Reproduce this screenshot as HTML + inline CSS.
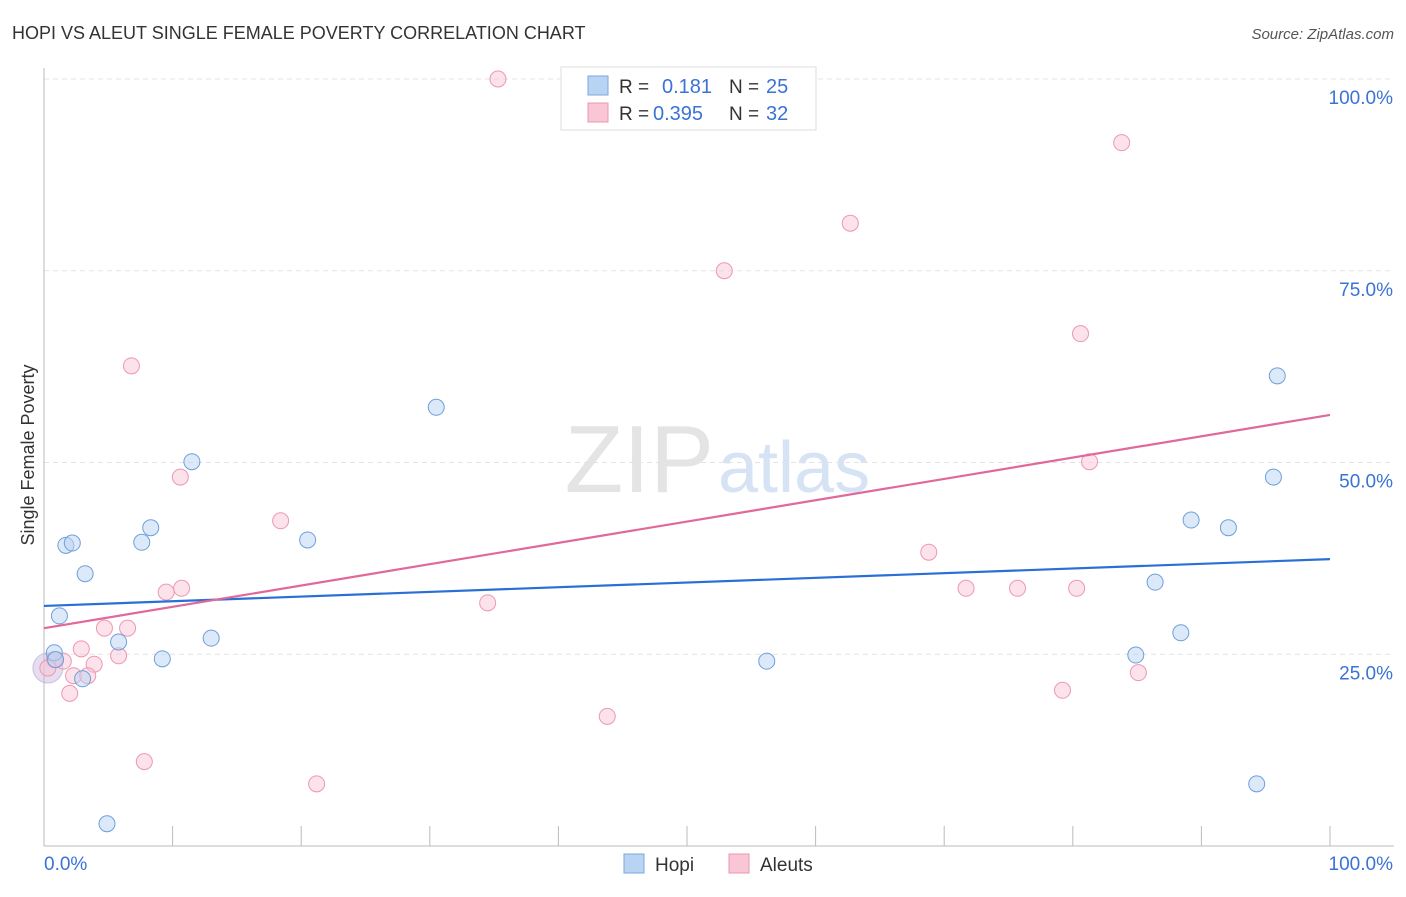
<!DOCTYPE html>
<html><head><meta charset="utf-8"><style>
body{margin:0;background:#fff;font-family:"Liberation Sans",sans-serif;}
svg text{font-family:"Liberation Sans",sans-serif;}
</style></head><body>
<svg id="c" width="1406" height="892" xmlns="http://www.w3.org/2000/svg">
<text x="12" y="39" font-size="18" fill="#333">HOPI VS ALEUT SINGLE FEMALE POVERTY CORRELATION CHART</text>
<text x="1394" y="39" font-size="15" fill="#555" font-style="italic" text-anchor="end">Source: ZipAtlas.com</text>
<text x="714" y="492" font-size="96" fill="#e4e4e4" font-family="Liberation Serif" text-anchor="end">ZIP</text>
<text x="718" y="492" font-size="72" fill="#d5e3f5">atlas</text>
<g id="grid"></g><g id="marks"></g>
<text transform="translate(34,455) rotate(-90)" font-size="18" fill="#333" text-anchor="middle">Single Female Poverty</text>
<g>
<rect x="561" y="67" width="255" height="63" fill="#fff" stroke="#ddd"/>
<rect x="588" y="76" width="20" height="19" fill="#b9d3f3" stroke="#7aa7e0"/>
<rect x="588" y="103" width="20" height="19" fill="#f9c6d6" stroke="#ee97b2"/>
<text x="619" y="93" font-size="19" fill="#333">R = </text><text x="662" y="93" font-size="20" fill="#3a72d6">0.181</text>
<text x="729" y="93" font-size="19" fill="#333">N = </text><text x="766" y="93" font-size="20" fill="#3a72d6">25</text>
<text x="619" y="120" font-size="19" fill="#333">R = </text><text x="653" y="120" font-size="20" fill="#3a72d6">0.395</text>
<text x="729" y="120" font-size="19" fill="#333">N = </text><text x="766" y="120" font-size="20" fill="#3a72d6">32</text>
</g>
<g>
<rect x="624" y="854" width="20" height="19" fill="#b9d3f3" stroke="#7aa7e0"/>
<text x="655" y="871" font-size="19" fill="#333">Hopi</text>
<rect x="729" y="854" width="20" height="19" fill="#f9c6d6" stroke="#ee97b2"/>
<text x="760" y="871" font-size="19" fill="#333">Aleuts</text>
</g>
</svg>
<script>
const hopiX=[0.8,0.9,1.2,1.7,2.2,3.2,3.0,4.9,5.8,7.6,8.3,9.2,11.5,13.0,20.5,30.5,56.2,84.9,86.4,88.4,89.2,92.1,94.3,95.6,95.9];
const hopiY=[25.2,24.3,30.0,39.2,39.5,35.5,21.8,2.9,26.6,39.6,41.5,24.4,50.1,27.1,39.9,57.2,24.1,24.9,34.4,27.8,42.5,41.5,8.1,48.1,61.3];
const aleutX=[35.3,83.8,62.7,52.9,80.6,6.8,10.6,81.3,18.4,68.8,9.5,10.7,71.7,75.7,80.3,34.5,4.7,6.5,2.9,5.8,1.5,3.9,2.3,3.4,2.0,79.2,85.1,43.8,7.8,21.2,0.8,0.3];
const aleutY=[100,91.7,81.2,75.0,66.8,62.6,48.1,50.1,42.4,38.3,33.1,33.6,33.6,33.6,33.6,31.7,28.4,28.4,25.7,24.8,24.1,23.7,22.2,22.2,19.9,20.3,22.6,16.9,11.0,8.1,24.3,23.2];
const hopiTrend=[31.3,37.4];
const aleutTrend=[28.4,56.2];
const yTicks=[25,50,75,100];
const xTickCount=10;
const NS="http://www.w3.org/2000/svg";
const X=v=>44+v*12.86, Y=v=>846-v*7.67;
function mk(t,a,p){const e=document.createElementNS(NS,t);for(const k in a)e.setAttribute(k,a[k]);p.appendChild(e);return e;}
const g=document.getElementById('grid'),m=document.getElementById('marks');
for(const t of yTicks){
 const l=mk('line',{x1:44,x2:1394,y1:Y(t),y2:Y(t),stroke:'#e3e3e3','stroke-dasharray':'5,4'},g);
 
 
 const tx=mk('text',{x:1393,y:Y(t)+25,'font-size':19,fill:'#3a72d6','text-anchor':'end'},g);
 tx.textContent=t.toFixed(1)+'%';
 
 
}
const ax=mk('line',{x1:44,x2:44,y1:68,y2:846,stroke:'#bbb'},g);


const bx=mk('line',{x1:44,x2:1394,y1:846,y2:846,stroke:'#bbb'},g);


for(let i=0;i<=xTickCount;i++){
 const v=i*100/xTickCount;
 const t=mk('line',{x1:X(v),x2:X(v),y1:826,y2:846,stroke:'#bbb'},g);
 
 
}
const xl=mk('text',{x:44,y:870,'font-size':19,fill:'#3a72d6'},g);xl.textContent='0.0%';


const xr=mk('text',{x:1393,y:870,'font-size':19,fill:'#3a72d6','text-anchor':'end'},g);xr.textContent='100.0%';


const big=mk('circle',{cx:X(0.3),cy:Y(23.2),r:15,fill:'rgba(200,180,220,0.45)',stroke:'rgba(180,160,210,0.6)'},m);


function pts(xs,ys,fill,stroke,name){xs.forEach((x,i)=>{const c=mk('circle',{cx:X(x),cy:Y(ys[i]),r:8,fill:fill,stroke:stroke,'stroke-width':1},m);
 
 });}
pts(aleutX,aleutY,'rgba(249,198,214,0.5)','#ee97b2','aleut-point');
pts(hopiX,hopiY,'rgba(185,211,243,0.5)','#6f9fdc','hopi-point');
const l1=mk('line',{x1:X(0),y1:Y(hopiTrend[0]),x2:X(100),y2:Y(hopiTrend[1]),stroke:'#2a6fd6','stroke-width':2.2},m);


const l2=mk('line',{x1:X(0),y1:Y(aleutTrend[0]),x2:X(100),y2:Y(aleutTrend[1]),stroke:'#e0689a','stroke-width':2.2},m);


</script>
</body></html>
